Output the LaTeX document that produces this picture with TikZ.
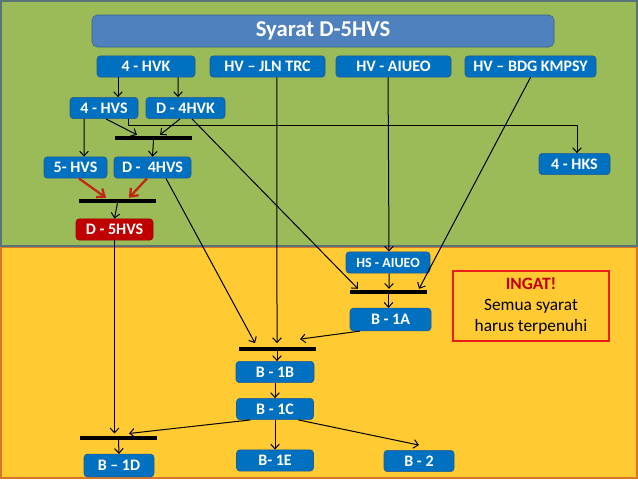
\documentclass[tikz,border=0pt]{standalone}
\usepackage{fontspec}
\setmainfont{Carlito}
\usetikzlibrary{arrows.meta}
\definecolor{LatarHijau}{RGB}{155,187,89}
\definecolor{TepiHijau}{RGB}{88,116,118}
\definecolor{LatarKuning}{RGB}{255,202,50}
\definecolor{TepiKuning}{RGB}{214,118,40}
\definecolor{KotakBiru}{RGB}{0,112,192}
\definecolor{TepiBiru}{RGB}{38,88,140}
\definecolor{JudulBiru}{RGB}{79,129,189}
\definecolor{TepiJudul}{RGB}{56,93,138}
\definecolor{MerahTua}{RGB}{192,0,0}
\definecolor{MerahPanah}{RGB}{192,38,20}
\definecolor{MerahTepi}{RGB}{235,30,25}

\begin{document}
\begin{tikzpicture}[x=0.75pt,y=-0.75pt,
    >={Straight Barb[length=3.5pt,width=6.5pt]},
    kotak/.style={draw=TepiBiru, fill=KotakBiru, rounded corners=2.5pt, text=white,
      font=\fontsize{12}{14}\selectfont\bfseries, inner sep=0pt, minimum height=16pt},
    lebar/.style={minimum width=#1*0.75pt},
    garis/.style={fill=black, inner sep=0pt, minimum height=2.4pt},
    panah/.style={->, line width=0.75pt},
    panahmerah/.style={-{Straight Barb[length=5pt,width=8pt]}, line width=1.7pt, draw=MerahPanah}
  ]
  \useasboundingbox (0,0) rectangle (638,479);
  % latar
  \draw[fill=LatarHijau, draw=TepiHijau, line width=1.2pt] (0.8,0.8) rectangle (637.2,246);
  \draw[fill=LatarKuning, draw=TepiKuning, line width=1.2pt] (0.8,247.5) rectangle (637.2,478.2);

  \node[kotak, draw=TepiJudul, fill=JudulBiru, lebar=462, minimum height=24pt, rounded corners=4pt,
    font=\fontsize{17}{20}\selectfont\bfseries] (judul) at (323,31) {Syarat D-5HVS};

  % baris atas
  \node[kotak, lebar=98] (hvk) at (146,66.5) {4 - HVK};
  \node[kotak, lebar=115] (jln) at (267.5,66.5) {HV -- JLN TRC};
  \node[kotak, lebar=115] (aiueo) at (393.5,66.5) {HV - AIUEO};
  \node[kotak, lebar=131] (bdg) at (530.5,66.5) {HV -- BDG KMPSY};

  \node[kotak, lebar=68] (hvs) at (104,108) {4 - HVS};
  \node[kotak, lebar=79] (dhvk) at (185.5,108) {D - 4HVK};
  \node[garis, lebar=77] (g1) at (153.5,138) {};

  \node[kotak, lebar=63] (lhvs) at (75.5,167.5) {5- HVS};
  \node[kotak, lebar=77] (dhvs) at (152.5,167.5) {D -\ \ 4HVS};
  \node[kotak, lebar=71] (hks) at (574.5,164) {4 - HKS};
  \node[garis, lebar=77] (g2) at (117.5,201) {};
  \node[kotak, fill=MerahTua, draw=MerahTua!80!black, lebar=77] (d5) at (114.5,229.5) {D - 5HVS};

  % bagian kuning
  \node[kotak, lebar=84, font=\fontsize{10.5}{12}\selectfont\bfseries] (hs) at (388,262.5) {HS - AIUEO};
  \node[garis, lebar=77] (g3) at (388.5,292) {};
  \node[kotak, lebar=81, minimum height=17pt] (b1a) at (390.5,319.5) {B - 1A};
  \node[garis, lebar=77] (g4) at (277,349) {};
  \node[kotak, lebar=78] (b1b) at (275,372) {B - 1B};
  \node[kotak, lebar=77] (b1c) at (275,409) {B - 1C};
  \node[garis, lebar=77] (g5) at (118.5,438) {};
  \node[kotak, lebar=70, minimum height=17pt] (b1d) at (119,465.5) {B -- 1D};
  \node[kotak, lebar=77] (b1e) at (275,460.5) {B- 1E};
  \node[kotak, lebar=70] (bdua) at (419,461) {B - 2};

  \node[draw=MerahTepi, line width=1.6pt, lebar=156, minimum height=52pt, align=center,
    font=\fontsize{13}{16}\selectfont] (ingat) at (531,306)
    {\textcolor{MerahTua}{\bfseries INGAT!}\\Semua syarat\\harus terpenuhi};

  % panah
  \coordinate (belok) at (577,125);
  \draw[panah] ([xshift=-21pt]hvk.south) -- ([xshift=10.5pt]hvs.north);
  \draw[panah] ([xshift=24pt]hvk.south) -- ([xshift=-5.6pt]dhvk.north);
  \draw[panah] ([xshift=-15pt]hvs.south) -- ([xshift=6.4pt]lhvs.north);
  \draw[panah] ([xshift=1.5pt]hvs.south) -- ([xshift=-12.4pt,yshift=1pt]g1.north);
  \draw[panah] ([xshift=-4.1pt]dhvk.south) -- ([xshift=4.9pt,yshift=1pt]g1.north);
  \draw[panah] ([xshift=18pt]hvs.south) |- (belok) -- (belok |- hks.north);
  \draw[panah] (g1.south) -- (dhvs.north);
  \draw[panahmerah] ([xshift=2.6pt]lhvs.south) -- ([xshift=-8.6pt,yshift=1pt]g2.north);
  \draw[panahmerah] ([xshift=-4.1pt]dhvs.south) -- ([xshift=8.6pt,yshift=1pt]g2.north);
  \draw[panah] (g2.south) -- (d5.north);
  \draw[panah] ([xshift=4.9pt]dhvk.south) -- ([xshift=-22.9pt,yshift=1pt]g3.north);
  \draw[panah] ([xshift=7.1pt]jln.south) -- ([yshift=3pt]g4.north);
  \draw[panah] ([xshift=-4.1pt]aiueo.south) -- ([xshift=0.75pt]hs.north);
  \draw[panah] (bdg.south) -- ([xshift=22.9pt,yshift=1pt]g3.north);
  \draw[panah] ([xshift=0.75pt]hs.south) -- ([xshift=0.4pt,yshift=1pt]g3.north);
  \draw[panah] (g3.south) -- (g3.south |- b1a.north);
  \draw[panah] ([xshift=-22.9pt]b1a.south) -- ([xshift=17.3pt,yshift=6pt]g4.north);
  \draw[panah] ([xshift=10.1pt]dhvs.south) -- ([xshift=-16.5pt,yshift=3pt]g4.north);
  \draw[panah] (d5.south) -- ([yshift=2pt]d5.south |- g5.north);
  \draw[panah] (g4.south) -- (g4.south |- b1b.north);
  \draw[panah] (b1b.south) -- (b1c.north);
  \draw[panah] ([xshift=-18.4pt]b1c.south) -- ([xshift=7.9pt,yshift=2pt]g5.north);
  \draw[panah] (g5.south) -- (b1d.north);
  \draw[panah] (b1c.south) -- (b1e.north);
  \draw[panah] ([xshift=17.6pt]b1c.south) -- ([yshift=3.75pt]bdua.north);
\end{tikzpicture}
\end{document}
